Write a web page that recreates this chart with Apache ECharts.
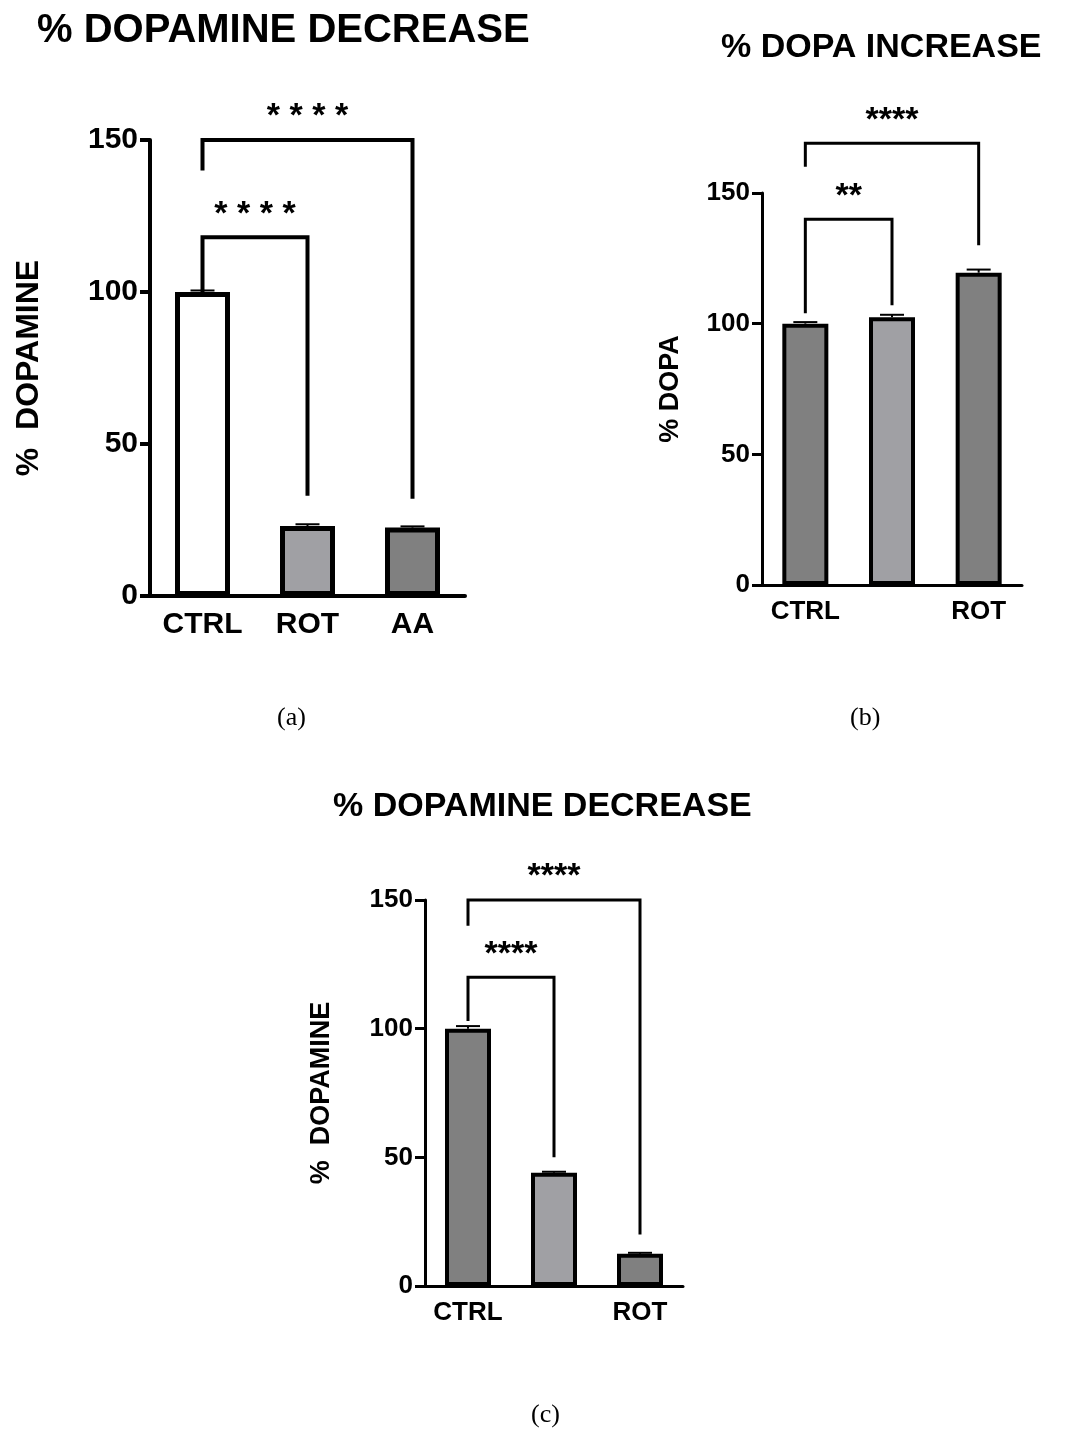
<!DOCTYPE html>
<html><head><meta charset="utf-8">
<script src="https://cdn.jsdelivr.net/npm/echarts@6/dist/echarts.min.js"></script>
<style>body{margin:0;background:#fff}#c{width:1080px;height:1437px}</style>
</head><body><div id="c"></div>
<script>
// panel (a)
const catsA = ['CTRL', 'ROT', 'AA'];
const valsA = [100, 23, 22.5];
const errA = [0.5, 0.6, 0.4];
const colorsA = ['#ffffff', '#a0a0a4', '#808080'];
// [from, to, top, leftDrop, rightDrop, label]
const sigA = [[0, 1, 118, 100, 33, '* * * *'], [0, 2, 150, 140, 32, '* * * *']];
// panel (b)
const catsB = ['CTRL', 'TBZ', 'ROT'];
const valsB = [100, 102.5, 119.5];
const errB = [0.6, 0.9, 1.2];
const colorsB = ['#808080', '#a0a0a4', '#808080'];
const sigB = [[0, 1, 140, 104, 107, '**'], [0, 2, 169, 160, 130, '****']];
// panel (c)
const catsC = ['CTRL', 'TBZ', 'ROT'];
const valsC = [100, 44, 12.5];
const errC = [1, 0.4, 0.4];
const colorsC = ['#808080', '#a0a0a4', '#808080'];
const sigC = [[0, 1, 120, 103, 50, '****'], [0, 2, 150, 140, 20, '****']];
const yTicks = [0, 50, 100, 150];

const font = 'Liberation Sans';
const chart = echarts.init(document.getElementById('c'));

function panel(i, cats, vals, err, colors, sig, opt) {
  const xAxis = {
    gridIndex: i, type: 'category', data: cats,
    axisLine: {lineStyle: {color: '#000', width: opt.lw}},
    axisTick: {alignWithLabel: true, length: 10, lineStyle: {width: opt.lw}},
    axisLabel: {color: '#000', fontFamily: font, fontWeight: 'bold', fontSize: opt.fs, margin: 14}
  };
  const yAxis = {
    gridIndex: i, type: 'value', min: 0, max: 150, interval: 50,
    name: opt.yname, nameLocation: 'middle', nameGap: opt.nameGap,
    nameTextStyle: {color: '#000', fontFamily: font, fontWeight: 'bold', fontSize: opt.nfs},
    splitLine: {show: false},
    axisLine: {show: true, lineStyle: {color: '#000', width: opt.lw}},
    axisTick: {show: true, length: 10, lineStyle: {width: opt.lw}},
    axisLabel: {color: '#000', fontFamily: font, fontWeight: 'bold', fontSize: opt.fs, margin: 12,
      formatter: v => yTicks.includes(v) ? v : ''}
  };
  const series = [{
    type: 'bar', xAxisIndex: i, yAxisIndex: i, barWidth: opt.bw,
    data: vals.map((v, k) => ({value: v, itemStyle: {color: colors[k], borderColor: '#000', borderWidth: opt.bw2}}))
  }, {
    type: 'custom', xAxisIndex: i, yAxisIndex: i, z: 5,
    data: vals.map((v, k) => [k, v, err[k]]),
    renderItem: (p, api) => {
      const a = api.coord([api.value(0), api.value(1) + api.value(2)]);
      const b = api.coord([api.value(0), api.value(1)]);
      return {type: 'group', children: [
        {type: 'line', shape: {x1: a[0], y1: a[1], x2: a[0], y2: b[1]}, style: {stroke: '#000', lineWidth: 2}},
        {type: 'line', shape: {x1: a[0] - 12, y1: a[1], x2: a[0] + 12, y2: a[1]}, style: {stroke: '#000', lineWidth: 2}}
      ]};
    }
  }, {
    type: 'custom', xAxisIndex: i, yAxisIndex: i, z: 6, clip: false,
    data: sig.map(s => s.slice(0, 5)),
    renderItem: (p, api) => {
      const s = sig[p.dataIndex];
      const tl = api.coord([s[0], s[2]]), tr = api.coord([s[1], s[2]]);
      const bl = api.coord([s[0], s[3]]), br = api.coord([s[1], s[4]]);
      return {type: 'group', children: [
        {type: 'polyline', shape: {points: [bl, tl, tr, br]}, style: {fill: null, stroke: '#000', lineWidth: opt.lw}},
        {type: 'text', style: {x: (tl[0] + tr[0]) / 2, y: tl[1] - 6, text: s[5], textAlign: 'center', textVerticalAlign: 'bottom',
          fill: '#000', font: 'bold ' + opt.sfs + 'px ' + font}}
      ]};
    }
  }];
  return {xAxis, yAxis, series};
}

const pa = panel(0, catsA, valsA, errA, colorsA, sigA, {lw: 4, fs: 30, nfs: 32, nameGap: 105, bw: 55, bw2: 5, sfs: 34, yname: '%  DOPAMINE'});
const pb = panel(1, catsB, valsB, errB, colorsB, sigB, {lw: 3, fs: 26, nfs: 27, nameGap: 78, bw: 46, bw2: 4, sfs: 34, yname: '% DOPA'});
const pc = panel(2, catsC, valsC, errC, colorsC, sigC, {lw: 3, fs: 26, nfs: 27, nameGap: 90, bw: 46, bw2: 4, sfs: 34, yname: '%  DOPAMINE'});

chart.setOption({
  animation: false,
  grid: [
    {left: 150, top: 140, width: 315, height: 456},
    {left: 762, top: 193, width: 260, height: 392},
    {left: 425, top: 900, width: 258, height: 386}
  ],
  title: [
    {text: '% DOPAMINE DECREASE', left: 32, top: 6, textStyle: {fontFamily: font, fontWeight: 'bold', fontSize: 40, color: '#000'}},
    {text: '% DOPA INCREASE', left: 716, top: 26, textStyle: {fontFamily: font, fontWeight: 'bold', fontSize: 34, color: '#000'}},
    {text: '% DOPAMINE DECREASE', left: 328, top: 785, textStyle: {fontFamily: font, fontWeight: 'bold', fontSize: 34, color: '#000'}},
    {text: '(a)', left: 272, top: 700, textStyle: {fontFamily: 'Liberation Serif', fontWeight: 'normal', fontSize: 26, color: '#000'}},
    {text: '(b)', left: 845, top: 700, textStyle: {fontFamily: 'Liberation Serif', fontWeight: 'normal', fontSize: 26, color: '#000'}},
    {text: '(c)', left: 526, top: 1397, textStyle: {fontFamily: 'Liberation Serif', fontWeight: 'normal', fontSize: 26, color: '#000'}}
  ],
  xAxis: [pa.xAxis, pb.xAxis, pc.xAxis],
  yAxis: [pa.yAxis, pb.yAxis, pc.yAxis],
  series: [...pa.series, ...pb.series, ...pc.series]
});
</script></body></html>
